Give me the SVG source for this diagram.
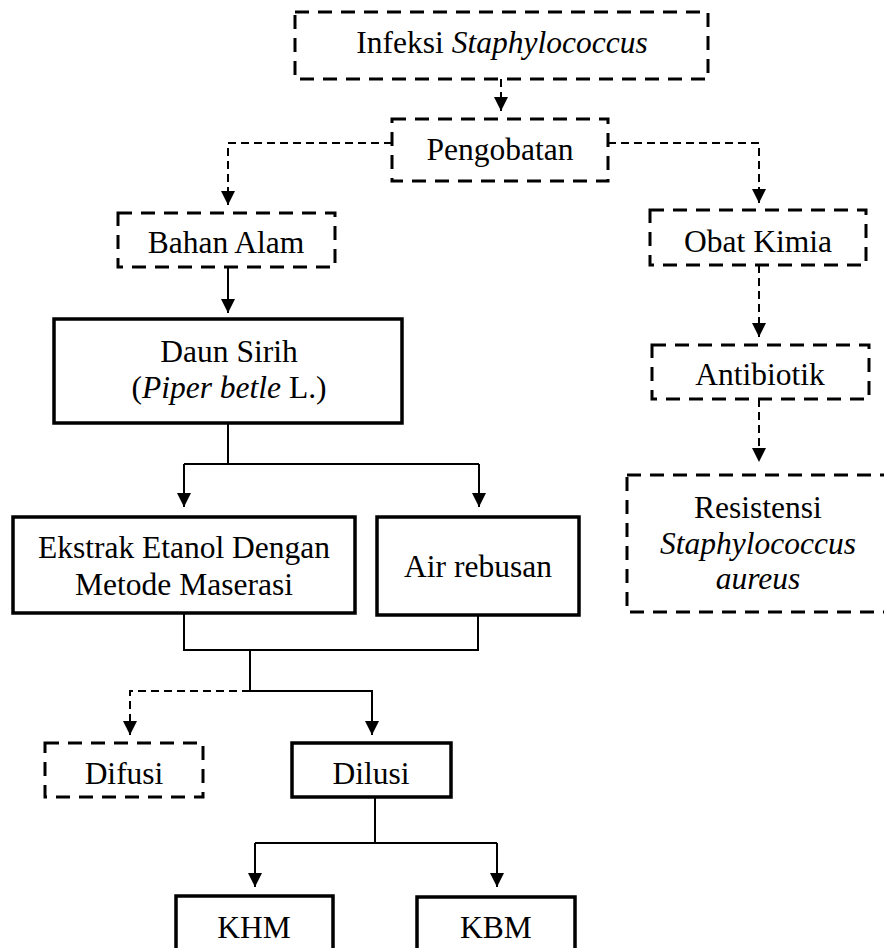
<svg xmlns="http://www.w3.org/2000/svg" width="884" height="948" viewBox="0 0 884 948">
<style>
text{font-family:"Liberation Serif","Times New Roman",serif;font-size:31.5px;fill:#000;text-anchor:middle}
.it{font-style:italic}
.dbox{fill:#fff;stroke:#000;stroke-width:3;stroke-dasharray:14 9}
.sbox{fill:#fff;stroke:#000;stroke-width:3.5}
.c{fill:none;stroke:#000;stroke-width:2}
.cd{fill:none;stroke:#000;stroke-width:2;stroke-dasharray:8 5}
</style>
<defs>
<marker id="ah" markerUnits="userSpaceOnUse" markerWidth="14" markerHeight="14" refX="14" refY="7" orient="auto">
<path d="M0,0 L14,7 L0,14 z" fill="#000"/>
</marker>
</defs>
<rect width="884" height="948" fill="#fff"/>
<g id="connectors">
<path class="cd" d="M501,79 V111" marker-end="url(#ah)"/>
<path class="cd" d="M392,143 H228 V205" marker-end="url(#ah)"/>
<path class="cd" d="M608,143 H759 V203" marker-end="url(#ah)"/>
<path class="c" d="M228,267 V313" marker-end="url(#ah)"/>
<path class="cd" d="M759,265 V337" marker-end="url(#ah)"/>
<path class="cd" d="M759,399 V462" marker-end="url(#ah)"/>
<path class="c" d="M228,423 V464"/>
<path class="c" d="M184,464 H479"/>
<path class="c" d="M184,464 V507" marker-end="url(#ah)"/>
<path class="c" d="M479,464 V507" marker-end="url(#ah)"/>
<path class="c" d="M184,613 V650 H478 V615"/>
<path class="c" d="M250,650 V691"/>
<path class="c" d="M250,691 H372 V735" marker-end="url(#ah)"/>
<path class="cd" d="M250,691 H130 V735" marker-end="url(#ah)"/>
<path class="c" d="M375,797 V843"/>
<path class="c" d="M255,843 H497"/>
<path class="c" d="M255,843 V887" marker-end="url(#ah)"/>
<path class="c" d="M497,843 V887" marker-end="url(#ah)"/>
</g>
<g id="infeksi">
<rect class="dbox" x="295" y="12" width="413" height="67"/>
<text x="502" y="53">Infeksi <tspan class="it">Staphylococcus</tspan></text>
</g>
<g id="pengobatan">
<rect class="dbox" x="392" y="119" width="216" height="62"/>
<text x="500" y="160">Pengobatan</text>
</g>
<g id="bahan-alam">
<rect class="dbox" x="118" y="213" width="217" height="54"/>
<text x="226" y="253">Bahan Alam</text>
</g>
<g id="obat-kimia">
<rect class="dbox" x="650" y="210" width="216" height="55"/>
<text x="758" y="252">Obat Kimia</text>
</g>
<g id="daun-sirih">
<rect class="sbox" x="54" y="319" width="348" height="104"/>
<text x="229" y="362">Daun Sirih</text>
<text x="229" y="398">(<tspan class="it">Piper betle</tspan> L.)</text>
</g>
<g id="antibiotik">
<rect class="dbox" x="652" y="345" width="217" height="54"/>
<text x="760" y="385">Antibiotik</text>
</g>
<g id="resistensi">
<rect class="dbox" x="627" y="475" width="262" height="137"/>
<text x="758" y="518">Resistensi</text>
<text x="758" y="554" class="it">Staphylococcus</text>
<text x="758" y="589" class="it">aureus</text>
</g>
<g id="ekstrak">
<rect class="sbox" x="13" y="517" width="342" height="96"/>
<text x="184" y="558">Ekstrak Etanol Dengan</text>
<text x="184" y="595">Metode Maserasi</text>
</g>
<g id="air-rebusan">
<rect class="sbox" x="377" y="517" width="202" height="98"/>
<text x="478" y="577">Air rebusan</text>
</g>
<g id="difusi">
<rect class="dbox" x="45" y="743" width="158" height="54"/>
<text x="124" y="784">Difusi</text>
</g>
<g id="dilusi">
<rect class="sbox" x="292" y="743" width="159" height="54"/>
<text x="371" y="784">Dilusi</text>
</g>
<g id="khm">
<rect class="sbox" x="176" y="896" width="157" height="70"/>
<text x="254" y="938">KHM</text>
</g>
<g id="kbm">
<rect class="sbox" x="417" y="897" width="158" height="70"/>
<text x="496" y="938">KBM</text>
</g>
</svg>
